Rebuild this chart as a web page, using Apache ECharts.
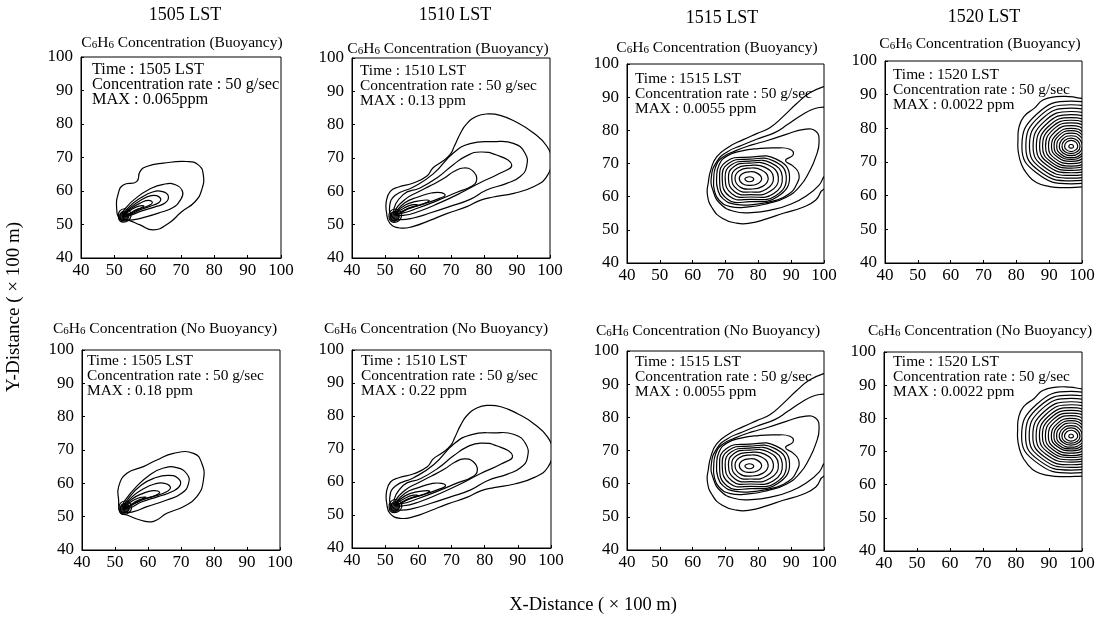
<!DOCTYPE html>
<html><head><meta charset="utf-8">
<script src="https://cdn.jsdelivr.net/npm/echarts/dist/echarts.min.js"></script>
<style>html,body{margin:0;padding:0;background:#fff}#c{width:1107px;height:622px}</style>
</head><body><div id="c"></div>
<script>
// ---------------- data ----------------
const xTicks = [40, 50, 60, 70, 80, 90, 100];
const yTicks = [40, 50, 60, 70, 80, 90, 100];
const times = ['1505', '1510', '1515', '1520'];
const maxBuoyancy = ['0.065ppm', '0.13 ppm', '0.0055 ppm', '0.0022 ppm'];
const maxNoBuoyancy = ['0.18 ppm', '0.22 ppm', '0.0055 ppm', '0.0022 ppm'];
const emissionRate = '50 g/sec';
const sourcePoint = [[52.8, 52.3]];

// small loops around the stack (source) location
const sourceLoops = [
  [[51.2,52.5],[51.6,54],[53,54.7],[54.6,54],[55,52.5],[54.2,51.2],[52.8,50.7],[51.6,51.2]],
  [[51.7,52.4],[52,53.5],[53,54],[54.1,53.4],[54.3,52.3],[53.6,51.4],[52.6,51.2],[51.9,51.6]]
];

// 1505 LST, buoyancy
const plume1505B = [
  [[51.2,59.3],[52.7,61.8],[56.7,62.8],[57.7,65.8],[59.7,67.3],[64.7,68.3],[71.7,68.8],[75.2,67.8],[76.7,64.8],[76.2,60.3],[74.2,56.8],[70.2,53.8],[66.2,50.3],[61.7,48.4],[57.7,49.9],[54.2,51.3],[51.7,51.8],[50.7,54.8]],
  [[53,51.6],[52.4,53.2],[53.5,55],[56,57.5],[60.5,60.5],[64.7,62],[68.5,61.8],[70.5,59.7],[69.8,57.3],[67.5,55],[63.5,53.5],[59.5,52.3],[55.5,51.4]],
  [[52.6,52.5],[54.5,55.3],[58,58],[61.5,59.7],[64.5,59.8],[66.2,58.5],[65.3,56.5],[62,55.2],[58,54],[54.5,52.6]],
  [[52.7,52.6],[55,55.2],[58,57.3],[61,58.6],[63.2,58.4],[63.8,57],[61.8,55.8],[58,54.5],[54.3,52.8]],
  [[52.8,52.7],[55.2,54.9],[58,56.5],[60.3,57.2],[61.4,56.5],[60.2,55.6],[57.3,54.6],[54.3,53]],
  [[52.9,52.7],[55.2,54.5],[57.3,55.5],[58.8,55.6],[58.6,55.2],[56.5,54.4],[54.2,53.1]]
];

// 1505 LST, no buoyancy
const plume1505N = [
  [[51.1,59],[53.6,63],[58.6,65],[62.7,67],[67.7,69],[73.8,69],[76.3,66],[76.8,61],[74.8,56],[70.7,53],[65.7,51],[61.7,48.6],[57.6,49],[53.6,50.5],[51.6,51.2],[51.1,55]],
  [[53,51.5],[52.4,53.3],[53.5,55.5],[56,58.5],[60.5,62.5],[64.7,64.6],[68.7,64.7],[71.8,62.8],[72.3,60],[70.2,57],[65.7,55],[59.7,53],[55.6,51.5]],
  [[52.6,52.5],[54.5,56],[58,59.5],[62,61.6],[66,62.4],[69,61.6],[69.8,59.6],[67.5,57.6],[63,56],[58,54.4],[54.5,52.6]],
  [[52.7,52.6],[55,55.8],[58.5,58.3],[62,59.8],[65,60],[66.8,58.8],[65.5,57.4],[61.5,56],[57,54.6],[54,52.8]],
  [[52.8,52.7],[55.2,55.3],[58.5,57],[61.5,57.8],[63.5,57.4],[62.5,56.5],[59,55.3],[55.5,53.7]],
  [[52.9,52.7],[55.2,54.7],[57.5,55.7],[59.3,55.9],[59.3,55.7],[57,54.9],[54.2,53.3]]
];

// 1510 LST
const plume1510 = [
  [[50.4,57],[51.6,60],[54.1,61.3],[58.6,62.5],[62.7,64.6],[64.5,67],[67,68.7],[69.7,71],[71,73.5],[72.8,77.3],[74.8,80.3],[77.8,82.5],[80.8,83.2],[84.9,82.8],[89.9,80.7],[94.9,77.6],[99,73.6],[100.3,69.4],[99,64.4],[95,61.4],[89,59.4],[82.8,58.3],[78.8,57.3],[74.8,55.4],[68.7,53.3],[63.6,51.3],[58.6,49.5],[54.5,49],[51.5,50.4],[50.5,53.4]],
  [[51.4,55.4],[53.1,58.8],[58.6,61.3],[64.7,65.3],[70.7,71.5],[75.8,74.3],[82.8,74.9],[88.9,74.4],[92.4,71.5],[92.9,67.4],[90.9,64.4],[86.9,62.4],[80.8,60.4],[75.8,57.6],[69.7,55.5],[63.6,53.5],[58.6,52],[54.5,51.5],[52.3,52.2]],
  [[52.6,53.5],[55.5,59],[60.6,61],[65.7,64],[70.7,68],[75,70.8],[78.8,71.8],[83.8,70.9],[88.4,67.9],[84.8,65.4],[78.8,62.6],[72.7,59.4],[66.7,56.6],[60.6,54.1],[55.5,52.8]],
  [[53,53.8],[56,57.5],[60,59.8],[64,61.8],[68,64],[71,66],[73.8,67],[76.5,66.2],[77.8,63.6],[76.2,61.5],[72,59.8],[66,57.3],[60,55],[55,53.4]],
  [[53.1,53.5],[56,56.6],[60,58.3],[64,59.5],[67,59.6],[68.2,58.8],[66.5,57.9],[62,56.3],[57,54.7],[53.6,53.1]],
  [[53.2,53.4],[56,55.8],[59.5,57],[62.5,57.4],[63.4,57.1],[61,56.1],[57,54.9],[53.7,53.1]],
  [[53.3,53.3],[55.8,55],[58.5,56],[60,55.8],[58.5,55.4],[55.8,54.3],[53.8,53.2]]
];

// 1515 LST
const plume1515 = [
  [[64.5,60.5],[64.8,64.5],[65.5,68],[67.3,72],[71,75],[75.4,77.2],[79.5,79],[83.5,80.8],[87.6,84.2],[91.6,88],[95.7,91.3],[100,93.2],[104,94],[106,78],[104,62],[100,62.3],[97.5,59],[93.6,56.8],[87.6,55],[82.5,53.3],[77.4,52],[73.4,52],[69,53.5],[66,56.5]],
  [[100.5,87],[97,86.5],[93,84.5],[89,81.8],[85,79.3],[80,77.5],[75,75.5],[70.5,73.5],[67.3,70.5],[65.7,66],[66.3,61.5],[68.5,57.8],[72.5,55.6],[78,55.2],[84,56],[90,57.8],[95,60.5],[98.5,63.5],[100.5,66.5],[104,68],[105,76],[104,86]],
  [[66.4,65],[67,69],[69,71.8],[73,73.8],[78,75.6],[83,77],[88.5,78.8],[94,80.3],[97.5,79.7],[98.5,76.5],[97.5,72],[95.5,67.5],[92.8,63.3],[88.5,59.8],[83,58],[77,56.9],[71.5,57],[68,59],[66.6,62]],
  [[67.3,65.5],[68,69.5],[70.5,72.3],[75,73.8],[80,74.5],[85,74.7],[89.6,74.3],[90.6,72.6],[88.3,70.9],[90.6,69.2],[92.3,67],[91.8,64],[89.3,60.8],[85,58.8],[79,57.7],[73,57.7],[69.2,59.4],[67.6,62.3]],
  [[89.5,66.2],[85.3,71.4],[77.3,71.9],[70.3,70.6],[68.2,65.8],[70.4,59.4],[77.6,58.5],[85.8,60.0]],
  [[88.5,66.1],[84.6,70.8],[77.3,71.3],[71.0,70.1],[69.0,65.7],[71.2,60.1],[77.6,59.2],[85.3,60.3]],
  [[87.3,66.0],[83.8,70.2],[77.3,70.7],[71.8,69.6],[69.9,65.7],[72.0,60.8],[77.6,59.9],[84.6,60.9]],
  [[86.1,65.9],[82.9,69.6],[77.3,70.1],[72.6,69.1],[70.9,65.6],[72.8,61.5],[77.5,60.6],[83.6,61.6]],
  [[84.6,65.8],[81.9,68.9],[77.3,69.4],[73.4,68.5],[71.9,65.6],[73.6,62.2],[77.5,61.4],[82.5,62.3]],
  [[83.0,65.6],[80.8,68.1],[77.3,68.6],[74.2,67.8],[72.9,65.5],[74.3,63.0],[77.5,62.3],[81.3,63.1]],
  [[81.0,65.5],[79.6,67.1],[77.3,67.5],[75.1,66.9],[74.2,65.5],[75.2,63.9],[77.3,63.4],[79.8,63.9]],
  [[78.6,65.3],[78.2,65.8],[77.3,66.0],[76.4,65.8],[75.9,65.3],[76.4,64.7],[77.2,64.5],[78.2,64.7]]
];

// 1520 LST
const plume1520 = [
  [[103,88.6],[100,88.9],[96.2,89.4],[92.2,89.4],[88.1,88.4],[85.5,86],[82.3,83.5],[80.8,80.3],[80.5,76.6],[80.6,73],[81.6,69.2],[83.4,66.3],[86.1,63.9],[90.2,62.7],[94.2,62.4],[100,62.6],[103,62.8],[107,75]],
  [[110.9,74.6],[106.7,84.1],[96.7,88.1],[86.1,84.1],[81.7,74.6],[86.1,66.8],[96.7,63.5],[106.7,66.8]],
  [[109.8,74.6],[106.0,83.4],[96.7,87.0],[86.9,83.4],[82.9,74.6],[86.9,67.4],[96.7,64.4],[106.0,67.4]],
  [[108.8,74.6],[105.2,82.7],[96.7,86.0],[87.7,82.7],[84.0,74.6],[87.7,68.0],[96.7,65.2],[105.2,68.0]],
  [[107.7,74.6],[104.5,82.0],[96.7,85.0],[88.5,82.0],[85.1,74.6],[88.5,68.5],[96.7,66.0],[104.5,68.5]],
  [[106.8,74.6],[103.8,81.3],[96.7,84.1],[89.2,81.3],[86.1,74.6],[89.2,69.1],[96.7,66.8],[103.8,69.1]],
  [[105.8,74.6],[103.1,80.7],[96.7,83.2],[89.9,80.7],[87.1,74.6],[89.9,69.6],[96.7,67.5],[103.1,69.6]],
  [[105.0,74.6],[102.5,80.1],[96.7,82.4],[90.5,80.1],[88.0,74.6],[90.5,70.1],[96.7,68.2],[102.5,70.1]],
  [[104.1,74.6],[101.9,79.6],[96.7,81.6],[91.2,79.6],[88.9,74.6],[91.2,70.5],[96.7,68.8],[101.9,70.5]],
  [[103.3,74.6],[101.3,79.0],[96.7,80.8],[91.8,79.0],[89.8,74.6],[91.8,71.0],[96.7,69.5],[101.3,71.0]],
  [[102.4,74.6],[100.7,78.4],[96.7,80.0],[92.5,78.4],[90.7,74.6],[92.5,71.5],[96.7,70.2],[100.7,71.5]],
  [[101.6,74.6],[100.2,77.9],[96.7,79.3],[93.0,77.9],[91.5,74.6],[93.0,71.9],[96.7,70.8],[100.2,71.9]],
  [[100.9,74.6],[99.7,77.4],[96.7,78.6],[93.6,77.4],[92.3,74.6],[93.6,72.3],[96.7,71.3],[99.7,72.3]],
  [[100.1,74.6],[99.1,76.9],[96.7,77.8],[94.2,76.9],[93.1,74.6],[94.2,72.7],[96.7,71.9],[99.1,72.7]],
  [[99.4,74.6],[98.6,76.4],[96.7,77.1],[94.7,76.4],[93.9,74.6],[94.7,73.1],[96.7,72.5],[98.6,73.1]],
  [[98.7,74.6],[98.1,75.9],[96.7,76.4],[95.3,75.9],[94.7,74.6],[95.3,73.6],[96.7,73.1],[98.1,73.6]],
  [[97.4,74.6],[97.2,75.1],[96.7,75.2],[96.2,75.1],[96.0,74.6],[96.2,74.2],[96.7,74.1],[97.2,74.2]]
];

// ---------------- layout / style ----------------
const FONT = 'Liberation Serif';
const gridBoxes = [
  [81, 57, 200, 201], [352, 58, 198, 200], [627, 64, 197, 199], [885, 61, 197, 202],
  [82, 350, 198, 200], [352, 350, 199, 198], [627, 351, 197, 199], [884, 352, 198, 199]
];
const panelPlumes = [plume1505B, plume1510, plume1515, plume1520, plume1505N, plume1510, plume1515, plume1520];
const panelHasSource = [true, true, false, false, true, true, false, false];
const noteFontSize = [16.3, 15.4, 15.4, 15.4, 15.4, 15.4, 15.4, 15.4];
const noteOffset = [[11, 5], [8, 5], [8, 7], [8, 6], [5, 3], [9, 3], [8, 3], [9, 2]];
const topTitlePos = [[185, 15], [455, 15], [722, 18], [984, 17]];
const subTitlePos = [[182, 42], [448, 48], [717, 47], [980, 43], [165, 328], [436, 328], [708, 330], [980, 330]];

// closed contour drawn through the axes of its grid
function contourSeries(gridIdx, pts) {
  return {
    type: 'custom', xAxisIndex: gridIdx, yAxisIndex: gridIdx, data: pts, encode: {x: 0, y: 1},
    clip: true, silent: true, animation: false,
    renderItem: function (params, api) {
      if (params.dataIndex !== 0) return null;
      const pix = pts.map(p => api.coord(p));
      return {type: 'polygon', shape: {points: pix, smooth: 0.5},
        style: {fill: null, stroke: '#000', lineWidth: 1.2}};
    }
  };
}

const grids = [], xAxes = [], yAxes = [], series = [], graphics = [];
gridBoxes.forEach((b, i) => {
  grids.push({left: b[0], top: b[1], width: b[2], height: b[3], show: true,
    borderColor: '#000', borderWidth: 1, backgroundColor: 'transparent', containLabel: false, outerBoundsMode: 'none'});
  const axisCommon = {type: 'value', gridIndex: i, min: xTicks[0], max: xTicks[xTicks.length - 1], interval: 10,
    axisLine: {show: true, onZero: false, lineStyle: {color: '#000', width: 1}},
    axisTick: {show: true, inside: true, length: 3, lineStyle: {color: '#000'}},
    splitLine: {show: false},
    axisLabel: {color: '#000', fontFamily: FONT, fontSize: 17}};
  xAxes.push(Object.assign({}, axisCommon, {axisLabel: Object.assign({}, axisCommon.axisLabel, {margin: 4})}));
  yAxes.push(Object.assign({}, axisCommon, {min: yTicks[0], max: yTicks[yTicks.length - 1],
    axisLabel: Object.assign({}, axisCommon.axisLabel, {margin: 8})}));
  panelPlumes[i].forEach(pts => series.push(contourSeries(i, pts)));
  if (panelHasSource[i]) {
    sourceLoops.forEach(pts => series.push(contourSeries(i, pts)));
    series.push({type: 'scatter', xAxisIndex: i, yAxisIndex: i, data: sourcePoint, symbolSize: 10,
      itemStyle: {color: '#000'}, silent: true, animation: false});
  }
  // sub titles
  const buoy = i < 4 ? 'Buoyancy' : 'No Buoyancy';
  graphics.push({type: 'text', x: subTitlePos[i][0], y: subTitlePos[i][1],
    style: {text: '{m|C}{s|6}{m|H}{s|6}{m| Concentration (' + buoy + ')}', textAlign: 'center', textVerticalAlign: 'middle',
      rich: {m: {fontFamily: FONT, fontSize: 15.5, lineHeight: 17, verticalAlign: 'bottom', fill: '#000'},
             s: {fontFamily: FONT, fontSize: 11, lineHeight: 6, verticalAlign: 'bottom', fill: '#000'}}}});
  // annotation box text
  const t = times[i % 4];
  const mx = i < 4 ? maxBuoyancy[i] : maxNoBuoyancy[i - 4];
  graphics.push({type: 'text', x: b[0] + noteOffset[i][0], y: b[1] + noteOffset[i][1],
    style: {text: 'Time : ' + t + ' LST\nConcentration rate : ' + emissionRate + '\nMAX : ' + mx,
      fontFamily: FONT, fontSize: noteFontSize[i], lineHeight: 15, fill: '#000', textAlign: 'left', textVerticalAlign: 'top'}});
});
times.forEach((t, i) => {
  graphics.push({type: 'text', x: topTitlePos[i][0], y: topTitlePos[i][1],
    style: {text: t + ' LST', fontFamily: FONT, fontSize: 18, fill: '#000', textAlign: 'center', textVerticalAlign: 'middle'}});
});
graphics.push({type: 'text', x: 593, y: 605,
  style: {text: 'X-Distance ( × 100 m)', fontFamily: FONT, fontSize: 18.5, fill: '#000', textAlign: 'center', textVerticalAlign: 'middle'}});
graphics.push({type: 'text', x: 14, y: 307, rotation: Math.PI / 2,
  style: {text: 'Y-Distance ( × 100 m)', fontFamily: FONT, fontSize: 19, fill: '#000', textAlign: 'center', textVerticalAlign: 'middle'}});

const chart = echarts.init(document.getElementById('c'), null, {renderer: 'canvas'});
chart.setOption({animation: false, backgroundColor: '#fff', grid: grids, xAxis: xAxes, yAxis: yAxes, series: series, graphic: graphics});
</script></body></html>
